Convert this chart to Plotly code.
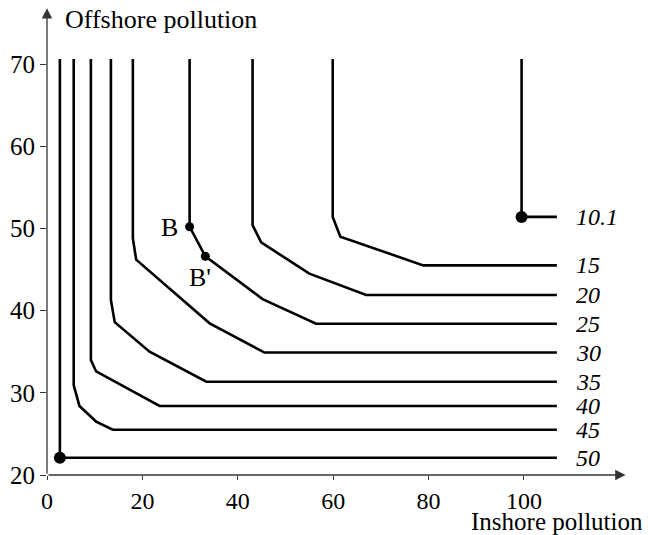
import plotly.graph_objects as go

# ---- data ----
levels = ["10.1", "15", "20", "25", "30", "35", "40", "45", "50"]
c101_x = [99.5, 99.5, 106.9]
c101_y = [70.6, 51.4, 51.4]
c15_x = [59.9, 59.9, 61.5, 78.9, 106.9]
c15_y = [70.6, 51.4, 49.0, 45.5, 45.5]
c20_x = [43.1, 43.1, 44.9, 55.0, 66.9, 106.9]
c20_y = [70.6, 50.4, 48.3, 44.5, 41.9, 41.9]
c25_x = [29.9, 29.9, 33.2, 45.2, 56.4, 106.9]
c25_y = [70.6, 50.2, 46.6, 41.4, 38.4, 38.4]
c30_x = [18.0, 18.0, 18.7, 34.1, 45.6, 106.9]
c30_y = [70.6, 48.8, 46.2, 38.45, 34.9, 34.9]
c35_x = [13.4, 13.4, 14.2, 21.5, 33.4, 106.9]
c35_y = [70.6, 41.3, 38.6, 35.0, 31.35, 31.35]
c40_x = [9.2, 9.2, 10.3, 12.5, 23.6, 106.9]
c40_y = [70.6, 34.0, 32.6, 31.9, 28.4, 28.4]
c45_x = [5.6, 5.6, 6.8, 10.3, 13.8, 106.9]
c45_y = [70.6, 30.9, 28.4, 26.5, 25.5, 25.5]
c50_x = [2.7, 2.7, 106.9]
c50_y = [70.6, 22.1, 22.1]

big_dot_x = [99.5, 2.7]
big_dot_y = [51.4, 22.1]
b_names = ["B", "B'"]
b_x = [29.9, 33.2]
b_y = [50.2, 46.6]
b_label_x = [25.7, 32.0]
b_label_y = [50.1, 44.0]

x_ticks = [0, 20, 40, 60, 80, 100]
y_ticks = [20, 30, 40, 50, 60, 70]
x_title = "Inshore pollution"
y_title = "Offshore pollution"

contours_x = [c101_x, c15_x, c20_x, c25_x, c30_x, c35_x, c40_x, c45_x, c50_x]
contours_y = [c101_y, c15_y, c20_y, c25_y, c30_y, c35_y, c40_y, c45_y, c50_y]

FONT = "Liberation Serif, Times New Roman, serif"
W, H = 648, 535
ML, MR, MT, MB = 47, 21, 6, 60
PW, PH = W - ML - MR, H - MT - MB

fig = go.Figure()

for xs, ys in zip(contours_x, contours_y):
    fig.add_trace(go.Scatter(x=xs, y=ys, mode="lines",
                             line=dict(color="black", width=2.6),
                             hoverinfo="skip", showlegend=False))

fig.add_trace(go.Scatter(x=big_dot_x, y=big_dot_y, mode="markers",
                         marker=dict(color="black", size=12), showlegend=False))
fig.add_trace(go.Scatter(x=b_x, y=b_y, mode="markers",
                         marker=dict(color="black", size=9), showlegend=False))

# contour level labels at the right end
for lab, xs, ys in zip(levels, contours_x, contours_y):
    fig.add_annotation(x=110.5, y=ys[-1], text="<i>" + lab + "</i>", showarrow=False,
                       xanchor="left", yanchor="middle",
                       font=dict(family=FONT, size=24, color="black"))

for name, lx, ly in zip(b_names, b_label_x, b_label_y):
    fig.add_annotation(x=lx, y=ly, text=name, showarrow=False,
                       xanchor="center", yanchor="middle",
                       font=dict(family=FONT, size=26, color="black"))

# axis arrows
AX = "#333"
fig.add_annotation(x=121.3, y=20, ax=0, ay=20, xref="x", yref="y", axref="x", ayref="y",
                   text="", showarrow=True, arrowhead=2, arrowsize=1.6, arrowwidth=1.3,
                   arrowcolor=AX)
fig.add_annotation(x=0, y=76.8, ax=0, ay=20, xref="x", yref="y", axref="x", ayref="y",
                   text="", showarrow=True, arrowhead=2, arrowsize=1.6, arrowwidth=1.3,
                   arrowcolor=AX)

# axis titles (positions given in page pixels, converted to paper coords)
fig.add_annotation(x=(63 - ML) / PW, y=(H - MB - 20) / PH, xref="paper", yref="paper",
                   text=y_title, showarrow=False, xanchor="left", yanchor="middle",
                   font=dict(family=FONT, size=26, color="black"))
fig.add_annotation(x=(645 - ML) / PW, y=(H - MB - 521) / PH, xref="paper", yref="paper",
                   text=x_title, showarrow=False, xanchor="right", yanchor="middle",
                   font=dict(family=FONT, size=25, color="black"))

fig.update_xaxes(range=[0, 121.6], tickvals=x_ticks, ticks="outside", ticklen=4,
                 tickcolor=AX, tickwidth=1.3, showgrid=False, zeroline=False,
                 showline=False, tickfont=dict(family=FONT, size=24, color="black"))
fig.update_yaxes(range=[20, 77.06], tickvals=y_ticks, ticks="outside", ticklen=6,
                 tickcolor=AX, tickwidth=1.3, showgrid=False, zeroline=False,
                 showline=False, tickfont=dict(family=FONT, size=25, color="black"))

fig.update_layout(width=W, height=H, margin=dict(l=ML, r=MR, t=MT, b=MB),
                  paper_bgcolor="white", plot_bgcolor="white", showlegend=False)

fig.write_html("out.html")
